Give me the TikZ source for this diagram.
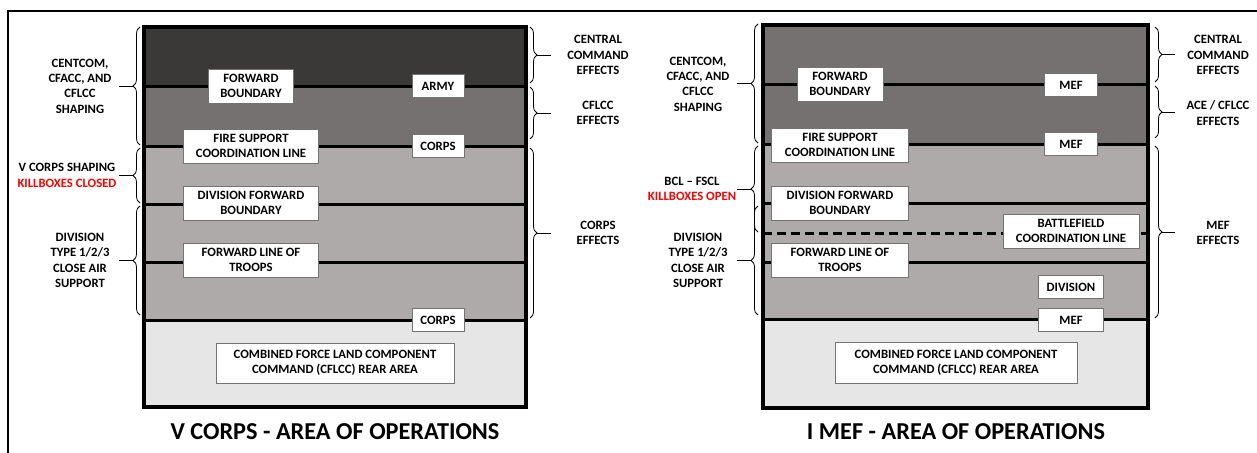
\documentclass[tikz,border=0pt]{standalone}
\usepackage{fontspec}
\setmainfont{Carlito}
\usetikzlibrary{decorations.pathreplacing}

\definecolor{bandA}{HTML}{3B3838}
\definecolor{bandB}{HTML}{767171}
\definecolor{bandC}{HTML}{AEAAAA}
\definecolor{bandD}{HTML}{E7E6E6}
\definecolor{killred}{HTML}{FF0000}

\tikzset{
  lbox/.style={draw=black!55, line width=0.8, fill=white, align=center, inner sep=0,
    minimum height=23, font=\bfseries\fontsize{12.7}{15.3}\selectfont},
  lboxtwo/.style={lbox, minimum height=34},
  sidetext/.style={align=center, font=\bfseries\fontsize{12.7}{15.3}\selectfont},
  areatitle/.style={font=\bfseries\fontsize{24.3}{28}\selectfont},
  phaseline/.style={draw=black, line width=3},
  cbrace/.style={decorate, decoration={brace, amplitude=7}, line width=0.8},
}

\begin{document}
\begin{tikzpicture}[x=1pt, y=-1pt]
    \useasboundingbox (0,0) rectangle (1257,452);
    \clip (0,0) rectangle (1257,452);
    \draw[line width=2] (8,11) rectangle (1275,470);

    % V corps
    \fill[bandA] (144,27) rectangle (526,86);
    \fill[bandB] (144,86) rectangle (526,146);
    \fill[bandC] (144,146) rectangle (526,320);
    \fill[bandD] (144,320) rectangle (526,407);
    \draw[phaseline] (144,86) -- (526,86);
    \draw[phaseline] (144,146) -- (526,146);
    \draw[phaseline] (144,204) -- (526,204);
    \draw[phaseline] (144,262) -- (526,262);
    \draw[phaseline] (144,320) -- (526,320);
    \draw[line width=4] (144,27) rectangle (526,407);

    \node[lboxtwo, minimum width=85] (vfb) at (251,86) {FORWARD\\BOUNDARY};
    \node[lbox, minimum width=52] (varmy) at (438,86) {ARMY};
    \node[lboxtwo, minimum width=135] (vfscl) at (251,146) {FIRE SUPPORT\\COORDINATION LINE};
    \node[lbox, minimum width=52] (vcorpsa) at (438,146) {CORPS};
    \node[lboxtwo, minimum width=135] (vdfb) at (251,203) {DIVISION FORWARD\\BOUNDARY};
    \node[lboxtwo, minimum width=135] (vflot) at (251,260) {FORWARD LINE OF\\TROOPS};
    \node[lbox, minimum width=52] (vcorpsb) at (438,320) {CORPS};
    \node[lboxtwo, minimum width=238, minimum height=40] (vrear) at (335,363) {COMBINED FORCE LAND COMPONENT\\COMMAND (CFLCC) REAR AREA};
    \node[areatitle] (vtitle) at (335,432) {V CORPS - AREA OF OPERATIONS};

    \draw[cbrace] (140,145) -- (140,27);
    \draw[line width=0.8] (133,86) -- (119,86);
    \draw[cbrace] (140,203) -- (140,148);
    \draw[line width=0.8] (133,175.5) -- (119,175.5);
    \draw[cbrace] (140,315) -- (140,206);
    \draw[line width=0.8] (133,260.5) -- (119,260.5);
    \node[sidetext] (vshapea) at (80,86) {CENTCOM,\\CFACC, AND\\CFLCC\\SHAPING};
    \node[sidetext] (vshapeb) at (67,175.5) {V CORPS SHAPING\\\textcolor{killred}{KILLBOXES CLOSED}};
    \node[sidetext] (vcas) at (80,260.5) {DIVISION\\TYPE 1/2/3\\CLOSE AIR\\SUPPORT};

    \draw[cbrace] (530,27) -- (530,83);
    \draw[line width=0.8] (537,55) -- (551,55);
    \draw[cbrace] (530,87) -- (530,139);
    \draw[line width=0.8] (537,113) -- (551,113);
    \draw[cbrace] (530,148) -- (530,318);
    \draw[line width=0.8] (537,233) -- (551,233);
    \node[sidetext] (veffa) at (598,55) {CENTRAL\\COMMAND\\EFFECTS};
    \node[sidetext] (veffb) at (598,113) {CFLCC\\EFFECTS};
    \node[sidetext] (veffc) at (598,233) {CORPS\\EFFECTS};

    % I MEF
    \fill[bandB] (763,25) rectangle (1148,144);
    \fill[bandC] (763,144) rectangle (1148,319);
    \fill[bandD] (763,319) rectangle (1148,408);
    \draw[phaseline] (763,84) -- (1148,84);
    \draw[phaseline] (763,144) -- (1148,144);
    \draw[phaseline] (763,203) -- (1148,203);
    \draw[phaseline, dash pattern=on 9 off 5] (763,233) -- (1148,233);
    \draw[phaseline] (763,262) -- (1148,262);
    \draw[phaseline] (763,319) -- (1148,319);
    \draw[line width=4] (763,25) rectangle (1148,408);

    \node[lboxtwo, minimum width=86] (mfb) at (840,84) {FORWARD\\BOUNDARY};
    \node[lbox, minimum width=53] (mmefa) at (1071,85) {MEF};
    \node[lboxtwo, minimum width=137] (mfscl) at (840,145) {FIRE SUPPORT\\COORDINATION LINE};
    \node[lbox, minimum width=53] (mmefb) at (1071,144) {MEF};
    \node[lboxtwo, minimum width=137] (mdfb) at (840,203) {DIVISION FORWARD\\BOUNDARY};
    \node[lboxtwo, minimum width=136] (mbcl) at (1071,231) {BATTLEFIELD\\COORDINATION LINE};
    \node[lboxtwo, minimum width=137] (mflot) at (840,260) {FORWARD LINE OF\\TROOPS};
    \node[lbox, minimum width=65] (mdiv) at (1071,287) {DIVISION};
    \node[lbox, minimum width=65] (mmefc) at (1071,320) {MEF};
    \node[lboxtwo, minimum width=242, minimum height=41] (mrear) at (956,363) {COMBINED FORCE LAND COMPONENT\\COMMAND (CFLCC) REAR AREA};
    \node[areatitle] (mtitle) at (956,432) {I MEF - AREA OF OPERATIONS};

    \draw[cbrace] (758,143) -- (758,24);
    \draw[line width=0.8] (751,83.5) -- (737,83.5);
    \draw[cbrace] (758,232) -- (758,146);
    \draw[line width=0.8] (751,189) -- (737,189);
    \draw[cbrace] (758,315) -- (758,206);
    \draw[line width=0.8] (751,260.5) -- (737,260.5);
    \node[sidetext] (mshapea) at (698,84) {CENTCOM,\\CFACC, AND\\CFLCC\\SHAPING};
    \node[sidetext] (mshapeb) at (692,189) {BCL -- FSCL\\\textcolor{killred}{KILLBOXES OPEN}};
    \node[sidetext] (mcas) at (698,260.5) {DIVISION\\TYPE 1/2/3\\CLOSE AIR\\SUPPORT};

    \draw[cbrace] (1155,27) -- (1155,82);
    \draw[line width=0.8] (1162,54.5) -- (1175,54.5);
    \draw[cbrace] (1155,86) -- (1155,138);
    \draw[line width=0.8] (1162,112) -- (1175,112);
    \draw[cbrace] (1155,146) -- (1155,318);
    \draw[line width=0.8] (1162,232) -- (1175,232);
    \node[sidetext] (meffa) at (1218,55) {CENTRAL\\COMMAND\\EFFECTS};
    \node[sidetext] (meffb) at (1218,113) {ACE / CFLCC\\EFFECTS};
    \node[sidetext] (meffc) at (1218,233) {MEF\\EFFECTS};
\end{tikzpicture}
\end{document}
